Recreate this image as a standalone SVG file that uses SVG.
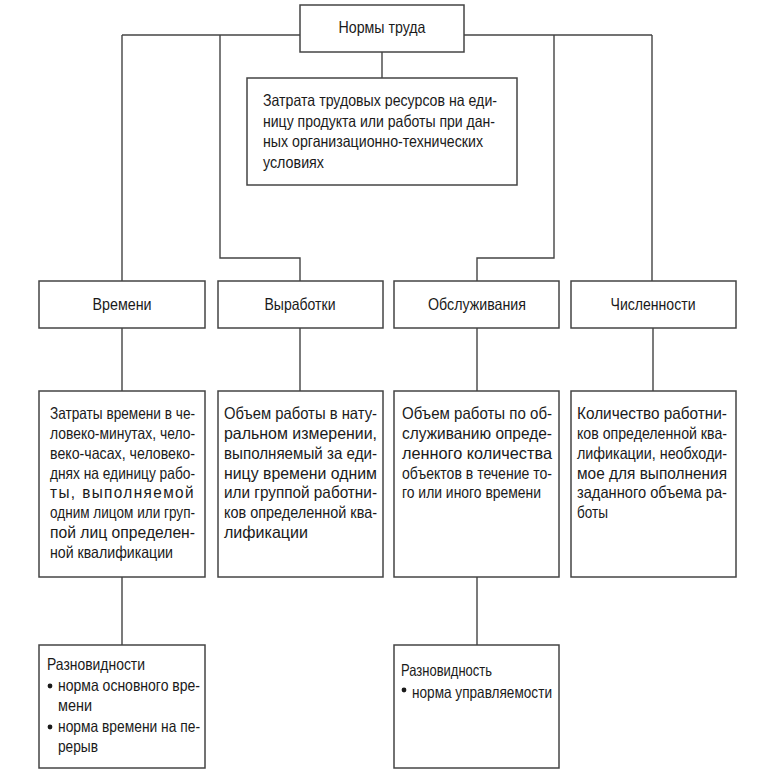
<svg xmlns="http://www.w3.org/2000/svg" width="768" height="777" viewBox="0 0 768 777">
<style>
.box{fill:#fff;stroke:#444;stroke-width:1.5}
.ln{fill:none;stroke:#444;stroke-width:1.4}
text{font-family:"Liberation Sans Narrow","Liberation Sans",Arial,sans-serif;font-size:16.5px;fill:#1a1a1a}
.c{text-anchor:middle}
.sp{letter-spacing:1.5px}
.bul{fill:#1a1a1a}
</style>
<rect width="768" height="777" fill="#fff"/>
<g id="connectors">
<path class="ln" d="M122 35H652"/>
<path class="ln" d="M122 35V281"/>
<path class="ln" d="M220 35V258H300V281"/>
<path class="ln" d="M554 35V258H477V281"/>
<path class="ln" d="M652 35V281"/>
<path class="ln" d="M382 52V78"/>
<path class="ln" d="M122 328V391M300 328V391M477 328V391M653 328V391"/>
<path class="ln" d="M122 577V645M477 577V645"/>
</g>
<g id="root">
<rect class="box" x="300" y="5" width="164" height="47"/>
<text class="c" x="382" y="33" textLength="87" lengthAdjust="spacingAndGlyphs">Нормы труда</text>
</g>
<g id="definition">
<rect class="box" x="247" y="78" width="270" height="107"/>
<text x="263" y="106" textLength="234" lengthAdjust="spacingAndGlyphs">Затрата трудовых ресурсов на еди-</text>
<text x="263" y="126.5" textLength="232" lengthAdjust="spacingAndGlyphs">ницу продукта или работы при дан-</text>
<text x="263" y="147" textLength="220" lengthAdjust="spacingAndGlyphs">ных организационно-технических</text>
<text x="263" y="167.5" textLength="61" lengthAdjust="spacingAndGlyphs">условиях</text>
</g>
<g id="vremeni">
<rect class="box" x="39" y="281" width="166" height="47"/>
<text class="c" x="122" y="310" textLength="59" lengthAdjust="spacingAndGlyphs">Времени</text>
</g>
<g id="vyrabotki">
<rect class="box" x="218" y="281" width="165" height="47"/>
<text class="c" x="300" y="310" textLength="71" lengthAdjust="spacingAndGlyphs">Выработки</text>
</g>
<g id="obsluzhivaniya">
<rect class="box" x="394" y="281" width="165" height="47"/>
<text class="c" x="477" y="310" textLength="98" lengthAdjust="spacingAndGlyphs">Обслуживания</text>
</g>
<g id="chislennosti">
<rect class="box" x="571" y="281" width="165" height="47"/>
<text class="c" x="653" y="310" textLength="85" lengthAdjust="spacingAndGlyphs">Численности</text>
</g>
<g id="vremeni-def">
<rect class="box" x="39" y="391" width="166" height="186"/>
<text x="50" y="419" textLength="145" lengthAdjust="spacingAndGlyphs">Затраты времени в че-</text>
<text x="50" y="439" textLength="145" lengthAdjust="spacingAndGlyphs">ловеко-минутах, чело-</text>
<text x="50" y="459" textLength="145" lengthAdjust="spacingAndGlyphs">веко-часах, человеко-</text>
<text x="50" y="479" textLength="145" lengthAdjust="spacingAndGlyphs">днях на единицу рабо-</text>
<text class="sp" x="50" y="498" textLength="145" lengthAdjust="spacingAndGlyphs">ты, выполняемой</text>
<text x="50" y="518" textLength="145" lengthAdjust="spacingAndGlyphs">одним лицом или груп-</text>
<text x="50" y="538" textLength="145" lengthAdjust="spacingAndGlyphs">пой лиц определен-</text>
<text x="50" y="558" textLength="123" lengthAdjust="spacingAndGlyphs">ной квалификации</text>
</g>
<g id="vyrabotki-def">
<rect class="box" x="218" y="391" width="165" height="186"/>
<text x="224" y="419" textLength="153" lengthAdjust="spacingAndGlyphs">Объем работы в нату-</text>
<text x="224" y="439" textLength="153" lengthAdjust="spacingAndGlyphs">ральном измерении,</text>
<text x="224" y="459" textLength="153" lengthAdjust="spacingAndGlyphs">выполняемый за еди-</text>
<text x="224" y="479" textLength="153" lengthAdjust="spacingAndGlyphs">ницу времени одним</text>
<text x="224" y="498" textLength="153" lengthAdjust="spacingAndGlyphs">или группой работни-</text>
<text x="224" y="518" textLength="153" lengthAdjust="spacingAndGlyphs">ков определенной ква-</text>
<text x="224" y="538" textLength="84" lengthAdjust="spacingAndGlyphs">лификации</text>
</g>
<g id="obsluzhivaniya-def">
<rect class="box" x="394" y="391" width="165" height="186"/>
<text x="402" y="419" textLength="150" lengthAdjust="spacingAndGlyphs">Объем работы по об-</text>
<text x="402" y="439" textLength="150" lengthAdjust="spacingAndGlyphs">служиванию опреде-</text>
<text x="402" y="459" textLength="150" lengthAdjust="spacingAndGlyphs">ленного количества</text>
<text x="402" y="479" textLength="150" lengthAdjust="spacingAndGlyphs">объектов в течение то-</text>
<text x="402" y="498" textLength="139" lengthAdjust="spacingAndGlyphs">го или иного времени</text>
</g>
<g id="chislennosti-def">
<rect class="box" x="571" y="391" width="165" height="186"/>
<text x="577" y="419" textLength="150" lengthAdjust="spacingAndGlyphs">Количество работни-</text>
<text x="577" y="439" textLength="150" lengthAdjust="spacingAndGlyphs">ков определенной ква-</text>
<text x="577" y="459" textLength="150" lengthAdjust="spacingAndGlyphs">лификации, необходи-</text>
<text x="577" y="479" textLength="150" lengthAdjust="spacingAndGlyphs">мое для выполнения</text>
<text x="577" y="498" textLength="150" lengthAdjust="spacingAndGlyphs">заданного объема ра-</text>
<text x="577" y="518" textLength="31" lengthAdjust="spacingAndGlyphs">боты</text>
</g>
<g id="vremeni-types">
<rect class="box" x="39" y="645" width="166" height="123"/>
<text x="47" y="670" textLength="98" lengthAdjust="spacingAndGlyphs">Разновидности</text>
<circle class="bul" cx="50" cy="686" r="2.4"/>
<text x="58" y="691" textLength="142" lengthAdjust="spacingAndGlyphs">норма основного вре-</text>
<text x="58" y="711" textLength="34" lengthAdjust="spacingAndGlyphs">мени</text>
<circle class="bul" cx="50" cy="727" r="2.4"/>
<text x="58" y="732" textLength="142" lengthAdjust="spacingAndGlyphs">норма времени на пе-</text>
<text x="58" y="752" textLength="40" lengthAdjust="spacingAndGlyphs">рерыв</text>
</g>
<g id="obsluzhivaniya-types">
<rect class="box" x="394" y="645" width="165" height="123"/>
<text x="401" y="676" textLength="91" lengthAdjust="spacingAndGlyphs">Разновидность</text>
<circle class="bul" cx="404" cy="690" r="2.4"/>
<text x="412" y="698" textLength="140" lengthAdjust="spacingAndGlyphs">норма управляемости</text>
</g>
</svg>
